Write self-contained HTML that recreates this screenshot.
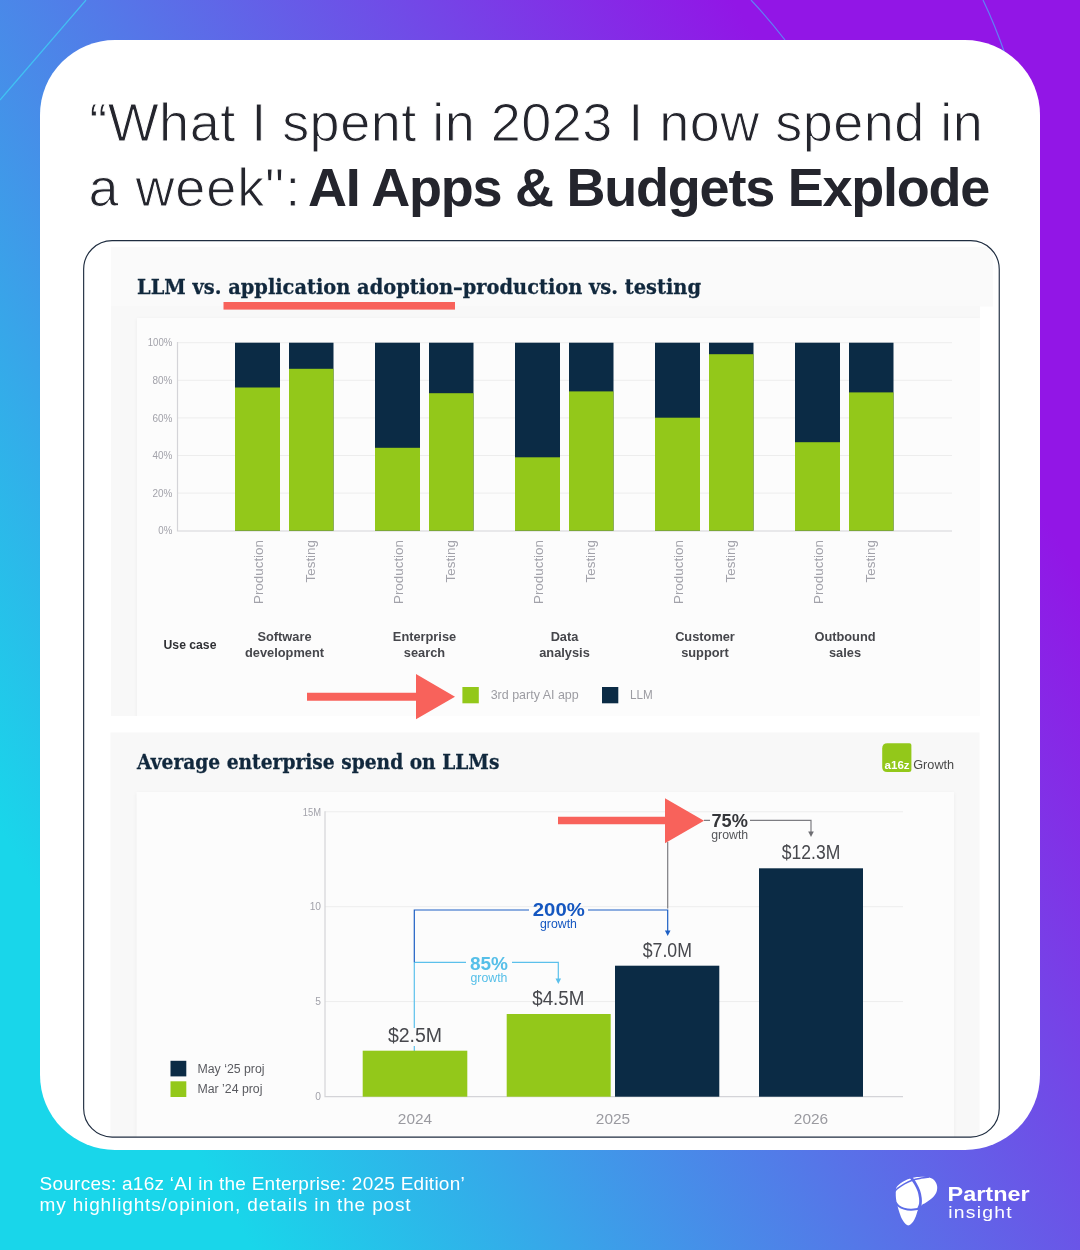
<!DOCTYPE html>
<html lang="en">
<head>
<meta charset="utf-8">
<title>AI Apps &amp; Budgets Explode</title>
<style>
html,body{margin:0;padding:0;}
body{width:1080px;height:1250px;overflow:hidden;position:relative;
  background:linear-gradient(58.9deg,#19d6ea 13.8%,#9216e6 81.1%);
  font-family:"Liberation Sans",sans-serif;}
#deco{position:absolute;left:0;top:0;width:1080px;height:1250px;}
#card{position:absolute;left:40px;top:40px;width:1000px;height:1110px;background:#fff;border-radius:75px;}
#title{position:absolute;left:0;top:0;width:1080px;color:#24252d;}
#title .l{position:absolute;white-space:nowrap;font-size:54px;line-height:60px;transform-origin:0 0;}
#t1{left:89.2px;top:92.2px;-webkit-text-stroke:1px #fff;letter-spacing:0.49px;}
#t2a{left:88.6px;top:156.6px;-webkit-text-stroke:1px #fff;letter-spacing:0.9px;}
#t2b{left:308px;top:156.6px;font-weight:700;letter-spacing:-1.24px;}
#frame{position:absolute;left:83px;top:240px;width:915px;height:896px;border:1.3px solid #1f2d40;border-radius:29px;overflow:hidden;box-sizing:content-box;}
#charts{position:absolute;left:0;top:0;width:1080px;height:1250px;}
#foot{position:absolute;left:39.5px;top:1172.7px;color:#fff;font-size:19px;line-height:21.6px;white-space:nowrap;}
#foot .a{letter-spacing:0.25px;}
#foot .b{letter-spacing:0.86px;}
#plogo{position:absolute;left:0;top:0;width:1080px;height:1250px;}
</style>
</head>
<body>
<svg id="deco" viewBox="0 0 1080 1250">
  <path d="M0 100 L86 0" stroke="#3fd0f5" stroke-width="1.2" fill="none" opacity="0.8"/>
  <path d="M751 0 Q768 18 785 40" stroke="#5b8cf5" stroke-width="1.2" fill="none" opacity="0.9"/>
  <path d="M983 0 Q995 25 1005 54" stroke="#5b8cf5" stroke-width="1.2" fill="none" opacity="0.9"/>
</svg>
<div id="card"></div>
<div id="title">
  <div class="l" id="t1">“What I spent in 2023 I now spend in</div>
  <div class="l" id="t2a">a week":</div>
  <div class="l" id="t2b">AI Apps &amp; Budgets Explode</div>
</div>
<svg id="charts" viewBox="0 0 1080 1250" width="1080" height="1250" font-family="'Liberation Sans',sans-serif">
  <defs>
    <filter id="sh" x="-5%" y="-5%" width="110%" height="110%"><feGaussianBlur stdDeviation="2.2"/></filter>
    <clipPath id="c1"><rect x="111" y="306" width="869" height="410"/></clipPath>
    <clipPath id="c2"><rect x="110.5" y="732.5" width="869" height="420"/></clipPath>
    <clipPath id="fc"><rect x="83.6" y="240.6" width="915.6" height="896.4" rx="28" ry="28"/></clipPath>
  </defs>
  <g clip-path="url(#fc)">
    <!-- top chart panels -->
    <rect x="111" y="247" width="882" height="59.5" fill="#fafafa"/>
    <rect x="111" y="306" width="869" height="410" fill="#f8f8f8"/>
    <g clip-path="url(#c1)"><rect x="137" y="319" width="843" height="420" fill="#000" opacity="0.05" filter="url(#sh)"/></g>
    <rect x="137" y="318" width="843" height="398" fill="#fcfcfc"/>
    <!-- bottom chart panels -->
    <rect x="110.5" y="732.5" width="869" height="420" fill="#f8f8f8"/>
    <g clip-path="url(#c2)"><rect x="136.5" y="793" width="817.5" height="360" fill="#000" opacity="0.05" filter="url(#sh)"/></g>
    <rect x="136.5" y="792" width="817.5" height="360" fill="#fcfcfc"/>
  </g>
  <!-- ===== TOP CHART ===== -->
  <g id="topchart">
    <text x="137" y="293.7" font-family="'DejaVu Serif',serif" font-weight="700" font-size="21.3" fill="#11283d" stroke="#11283d" stroke-width="0.3" textLength="564" lengthAdjust="spacingAndGlyphs">LLM vs. application adoption–production vs. testing</text>
    <rect x="223.5" y="302" width="231.5" height="7.6" fill="#f8625b"/>
    <g stroke="#ededed" stroke-width="1">
      <line x1="178" y1="342.7" x2="952" y2="342.7"/>
      <line x1="178" y1="380.3" x2="952" y2="380.3"/>
      <line x1="178" y1="417.9" x2="952" y2="417.9"/>
      <line x1="178" y1="455.5" x2="952" y2="455.5"/>
      <line x1="178" y1="493.1" x2="952" y2="493.1"/>
    </g>
    <g stroke="#d4d4d8" stroke-width="1.2" fill="none">
      <path d="M177.5 342 V531 H952"/>
    </g>
    <g font-size="10.4" fill="#a2a2aa" lengthAdjust="spacingAndGlyphs">
      <text x="147.8" y="346.4" textLength="24.5" lengthAdjust="spacingAndGlyphs">100%</text>
      <text x="152.4" y="384" textLength="19.9" lengthAdjust="spacingAndGlyphs">80%</text>
      <text x="152.4" y="421.6" textLength="19.9" lengthAdjust="spacingAndGlyphs">60%</text>
      <text x="152.4" y="459.2" textLength="19.9" lengthAdjust="spacingAndGlyphs">40%</text>
      <text x="152.4" y="496.8" textLength="19.9" lengthAdjust="spacingAndGlyphs">20%</text>
      <text x="158.3" y="534.4" textLength="14" lengthAdjust="spacingAndGlyphs">0%</text>
    </g>
    <g id="bars1">
      <!-- navy full then green on top -->
      <g fill="#0b2b45">
        <rect x="235" y="342.7" width="45" height="188"/>
        <rect x="289" y="342.7" width="44.5" height="188"/>
        <rect x="375" y="342.7" width="45" height="188"/>
        <rect x="429" y="342.7" width="44.5" height="188"/>
        <rect x="515" y="342.7" width="45" height="188"/>
        <rect x="569" y="342.7" width="44.5" height="188"/>
        <rect x="655" y="342.7" width="45" height="188"/>
        <rect x="709" y="342.7" width="44.5" height="188"/>
        <rect x="795" y="342.7" width="45" height="188"/>
        <rect x="849" y="342.7" width="44.5" height="188"/>
      </g>
      <g fill="#93c81a">
        <rect x="235" y="387.5" width="45" height="143.2"/>
        <rect x="289" y="368.8" width="44.5" height="161.9"/>
        <rect x="375" y="447.8" width="45" height="82.9"/>
        <rect x="429" y="393.2" width="44.5" height="137.5"/>
        <rect x="515" y="457.3" width="45" height="73.4"/>
        <rect x="569" y="391.4" width="44.5" height="139.3"/>
        <rect x="655" y="417.7" width="45" height="113"/>
        <rect x="709" y="354.2" width="44.5" height="176.5"/>
        <rect x="795" y="442.2" width="45" height="88.5"/>
        <rect x="849" y="392.4" width="44.5" height="138.3"/>
      </g>
    </g>
    <g font-size="13.4" fill="#a2a2aa" text-anchor="end">
      <text transform="translate(262.8 540) rotate(-90)">Production</text>
      <text transform="translate(315.3 540) rotate(-90)">Testing</text>
      <text transform="translate(402.8 540) rotate(-90)">Production</text>
      <text transform="translate(455.3 540) rotate(-90)">Testing</text>
      <text transform="translate(542.8 540) rotate(-90)">Production</text>
      <text transform="translate(595.3 540) rotate(-90)">Testing</text>
      <text transform="translate(682.8 540) rotate(-90)">Production</text>
      <text transform="translate(735.3 540) rotate(-90)">Testing</text>
      <text transform="translate(822.8 540) rotate(-90)">Production</text>
      <text transform="translate(875.3 540) rotate(-90)">Testing</text>
    </g>
    <g font-size="12.8" font-weight="700" fill="#45464b" text-anchor="middle">
      <text x="190" y="649.2" fill="#2f3034" font-size="12.2">Use case</text>
      <text x="284.5" y="641">Software</text><text x="284.5" y="656.8">development</text>
      <text x="424.5" y="641">Enterprise</text><text x="424.5" y="656.8">search</text>
      <text x="564.5" y="641">Data</text><text x="564.5" y="656.8">analysis</text>
      <text x="705" y="641">Customer</text><text x="705" y="656.8">support</text>
      <text x="845" y="641">Outbound</text><text x="845" y="656.8">sales</text>
    </g>
    <rect x="462.4" y="687" width="16.4" height="16.3" fill="#93c81a"/>
    <rect x="602" y="687" width="16.3" height="16.3" fill="#0b2b45"/>
    <g font-size="12.4" fill="#9c9ca2">
      <text x="490.7" y="699.3" textLength="88" lengthAdjust="spacingAndGlyphs">3rd party AI app</text>
      <text x="630" y="699.3" textLength="22.7" lengthAdjust="spacingAndGlyphs">LLM</text>
    </g>
    <path d="M307 692.7 H416 V674 L455 696.7 L416 719.3 V700.7 H307 Z" fill="#f8625b"/>
  </g>
  <!-- ===== BOTTOM CHART ===== -->
  <g id="bottomchart">
    <text x="137" y="769" font-family="'DejaVu Serif',serif" font-weight="700" font-size="21.3" fill="#11283d" stroke="#11283d" stroke-width="0.3" textLength="362.5" lengthAdjust="spacingAndGlyphs">Average enterprise spend on LLMs</text>
    <!-- a16z growth logo -->
    <path d="M887.5 743.3 H909.5 Q911.4 743.3 911.4 745.2 V769.5 Q911.4 772 908.9 772 H887.2 Q882.2 772 882.2 767 V748.6 Q882.2 743.3 887.5 743.3 Z" fill="#93c81a"/>
    <text x="884.6" y="768.9" font-size="11.2" font-weight="700" fill="#ffffff" textLength="25" lengthAdjust="spacingAndGlyphs">a16z</text>
    <text x="913.2" y="768.9" font-size="13.4" fill="#4a4a4a" textLength="41" lengthAdjust="spacingAndGlyphs">Growth</text>
    <g stroke="#ededed" stroke-width="1">
      <line x1="325" y1="811.8" x2="903" y2="811.8"/>
      <line x1="325" y1="906.7" x2="903" y2="906.7"/>
      <line x1="325" y1="1001.6" x2="903" y2="1001.6"/>
    </g>
    <path d="M325 811.3 V1096.7 H903" stroke="#d4d4d8" stroke-width="1.2" fill="none"/>
    <g font-size="10.2" fill="#a2a2aa" text-anchor="end">
      <text x="321" y="815.5" textLength="18.2" lengthAdjust="spacingAndGlyphs">15M</text>
      <text x="321" y="910.4">10</text>
      <text x="321" y="1005.3">5</text>
      <text x="321" y="1100.2">0</text>
    </g>
    <!-- connectors -->
    <g fill="none" stroke-width="1.2">
      <path d="M414.3 1028 V962.3 M414.3 962.3 H466 M512 962.3 H558.3 V980" stroke="#5bc0eb"/>
      <path d="M414.3 1046 V1051" stroke="#5bc0eb"/>
      <path d="M414.3 962.3 V910 H529 M588 910 H667.7 V932" stroke="#1c5fc4"/>
      <path d="M667.7 908.5 V842 M704 820.3 H710 M750 820.3 H811 V833" stroke="#7d7d82"/>
    </g>
    <path d="M555.5 978.5 H561.1 L558.3 984 Z" fill="#5bc0eb"/>
    <path d="M664.9 930.5 H670.5 L667.7 936 Z" fill="#1c5fc4"/>
    <path d="M808.2 831.5 H813.8 L811 837 Z" fill="#6d6d72"/>
    <!-- bars -->
    <rect x="362.7" y="1050.7" width="104.6" height="46" fill="#93c81a"/>
    <rect x="506.7" y="1014" width="104" height="82.7" fill="#93c81a"/>
    <rect x="615" y="965.7" width="104.3" height="131" fill="#0b2b45"/>
    <rect x="759" y="868.3" width="104" height="228.4" fill="#0b2b45"/>
    <!-- value labels -->
    <g font-size="19.5" fill="#47484d" text-anchor="middle">
      <text x="415" y="1042">$2.5M</text>
      <text x="558.3" y="1005" textLength="52.2" lengthAdjust="spacingAndGlyphs">$4.5M</text>
      <text x="667.3" y="956.7" textLength="49.2" lengthAdjust="spacingAndGlyphs">$7.0M</text>
      <text x="811" y="859" textLength="58.5" lengthAdjust="spacingAndGlyphs">$12.3M</text>
    </g>
    <g font-size="14.8" fill="#9a9aa0" text-anchor="middle">
      <text x="415" y="1124.3" textLength="34.3" lengthAdjust="spacingAndGlyphs">2024</text>
      <text x="613" y="1124.3" textLength="34.3" lengthAdjust="spacingAndGlyphs">2025</text>
      <text x="811" y="1124.3" textLength="34.3" lengthAdjust="spacingAndGlyphs">2026</text>
    </g>
    <!-- growth labels -->
    <g text-anchor="middle">
      <text x="489" y="970.2" font-size="19" font-weight="700" fill="#56bfe8">85%</text>
      <text x="489" y="981.7" font-size="12.3" fill="#56bfe8">growth</text>
      <text x="558.8" y="916" font-size="19" font-weight="700" fill="#1557c0" textLength="52" lengthAdjust="spacingAndGlyphs">200%</text>
      <text x="558.5" y="928.3" font-size="12.3" fill="#1557c0">growth</text>
      <text x="729.7" y="826.7" font-size="18.2" font-weight="700" fill="#35363a">75%</text>
      <text x="729.7" y="839.3" font-size="12.3" fill="#55565a">growth</text>
    </g>
    <!-- legend -->
    <rect x="170.5" y="1060.8" width="15.8" height="15.6" fill="#0b2b45"/>
    <rect x="170.5" y="1081.3" width="15.8" height="15.7" fill="#93c81a"/>
    <g font-size="12.3" fill="#5a5b60">
      <text x="197.5" y="1072.6">May ‘25 proj</text>
      <text x="197.5" y="1093">Mar ’24 proj</text>
    </g>
    <path d="M558 816.7 H665 V798.3 L704 820.7 L665 843.3 V824.3 H558 Z" fill="#f8625b"/>
  </g>

  <!-- frame -->
  <rect x="83.65" y="240.65" width="915.6" height="896.4" rx="28.5" ry="28.5" fill="none" stroke="#1f2d40" stroke-width="1.15"/>
</svg>

<div id="foot"><span class="a">Sources: a16z ‘AI in the Enterprise: 2025 Edition’</span><br><span class="b">my highlights/opinion, details in the post</span></div>
<svg id="plogo" viewBox="0 0 1080 1250" width="1080" height="1250" font-family="'Liberation Sans',sans-serif">
  <defs>
    <mask id="pm" maskUnits="userSpaceOnUse" x="880" y="1165" width="70" height="70">
      <path d="M896.34 1187.69 C897.09 1186.12 898.67 1184.71 900.23 1183.47 C901.80 1182.23 903.74 1181.15 905.74 1180.23 C907.74 1179.31 909.63 1178.52 912.22 1177.96 C914.81 1177.40 918.49 1176.95 921.30 1176.86 C924.10 1176.77 926.91 1176.88 929.07 1177.44 C931.23 1178.01 932.93 1178.85 934.26 1180.23 C935.59 1181.61 936.69 1183.74 937.05 1185.74 C937.40 1187.74 937.21 1190.17 936.40 1192.22 C935.59 1194.27 933.97 1196.31 932.19 1198.06 C930.40 1199.81 927.39 1201.60 925.70 1202.72 C924.02 1203.85 923.35 1203.63 922.07 1204.80 C920.80 1205.96 919.07 1207.88 918.06 1209.72 C917.04 1211.57 916.85 1213.83 915.98 1215.88 C915.12 1217.93 914.02 1220.47 912.87 1222.04 C911.73 1223.60 910.32 1224.93 909.11 1225.28 C907.90 1225.62 906.82 1225.19 905.61 1224.11 C904.40 1223.03 902.98 1221.03 901.85 1218.80 C900.73 1216.56 899.65 1213.07 898.87 1210.69 C898.09 1208.32 897.66 1206.54 897.19 1204.54 C896.71 1202.54 896.26 1200.65 896.02 1198.70 C895.78 1196.76 895.71 1194.71 895.76 1192.87 C895.81 1191.03 895.60 1189.25 896.34 1187.69 Z" fill="#fff"/>
      <g fill="none" stroke="#000">
        <path d="M894.72 1191.44 C895.26 1190.90 896.34 1189.48 897.96 1188.20 C899.58 1186.93 902.07 1185.14 904.44 1183.80 C906.82 1182.46 909.41 1181.12 912.22 1180.17 C915.03 1179.22 918.49 1178.61 921.30 1178.09 C924.10 1177.57 927.78 1177.23 929.07 1177.06" stroke-width="1.5"/>
        <path d="M910.93 1177.31 C911.68 1178.40 914.15 1181.53 915.46 1183.80 C916.78 1186.06 918.01 1188.55 918.83 1190.93 C919.65 1193.30 920.13 1195.90 920.39 1198.06 C920.65 1200.22 920.72 1202.05 920.39 1203.89 C920.05 1205.73 918.71 1208.21 918.38 1209.07" stroke-width="2.7"/>
        <path d="M895.69 1202.59 C896.23 1203.20 897.58 1205.22 898.94 1206.22 C900.29 1207.23 901.80 1208.03 903.80 1208.62 C905.79 1209.21 908.39 1209.75 910.93 1209.79 C913.46 1209.82 917.68 1208.98 919.03 1208.81" stroke-width="2"/>
      </g>
    </mask>
  </defs>
  <rect x="880" y="1165" width="70" height="70" fill="#fff" mask="url(#pm)"/>
  <text x="947.6" y="1200.5" font-size="20.2" font-weight="700" fill="#fff" textLength="82" lengthAdjust="spacingAndGlyphs">Partner</text>
  <text transform="translate(948.2 1217.8) scale(1.12 1)" font-size="17.3" fill="#fff" letter-spacing="1.1">insight</text>
</svg>
</body>
</html>
